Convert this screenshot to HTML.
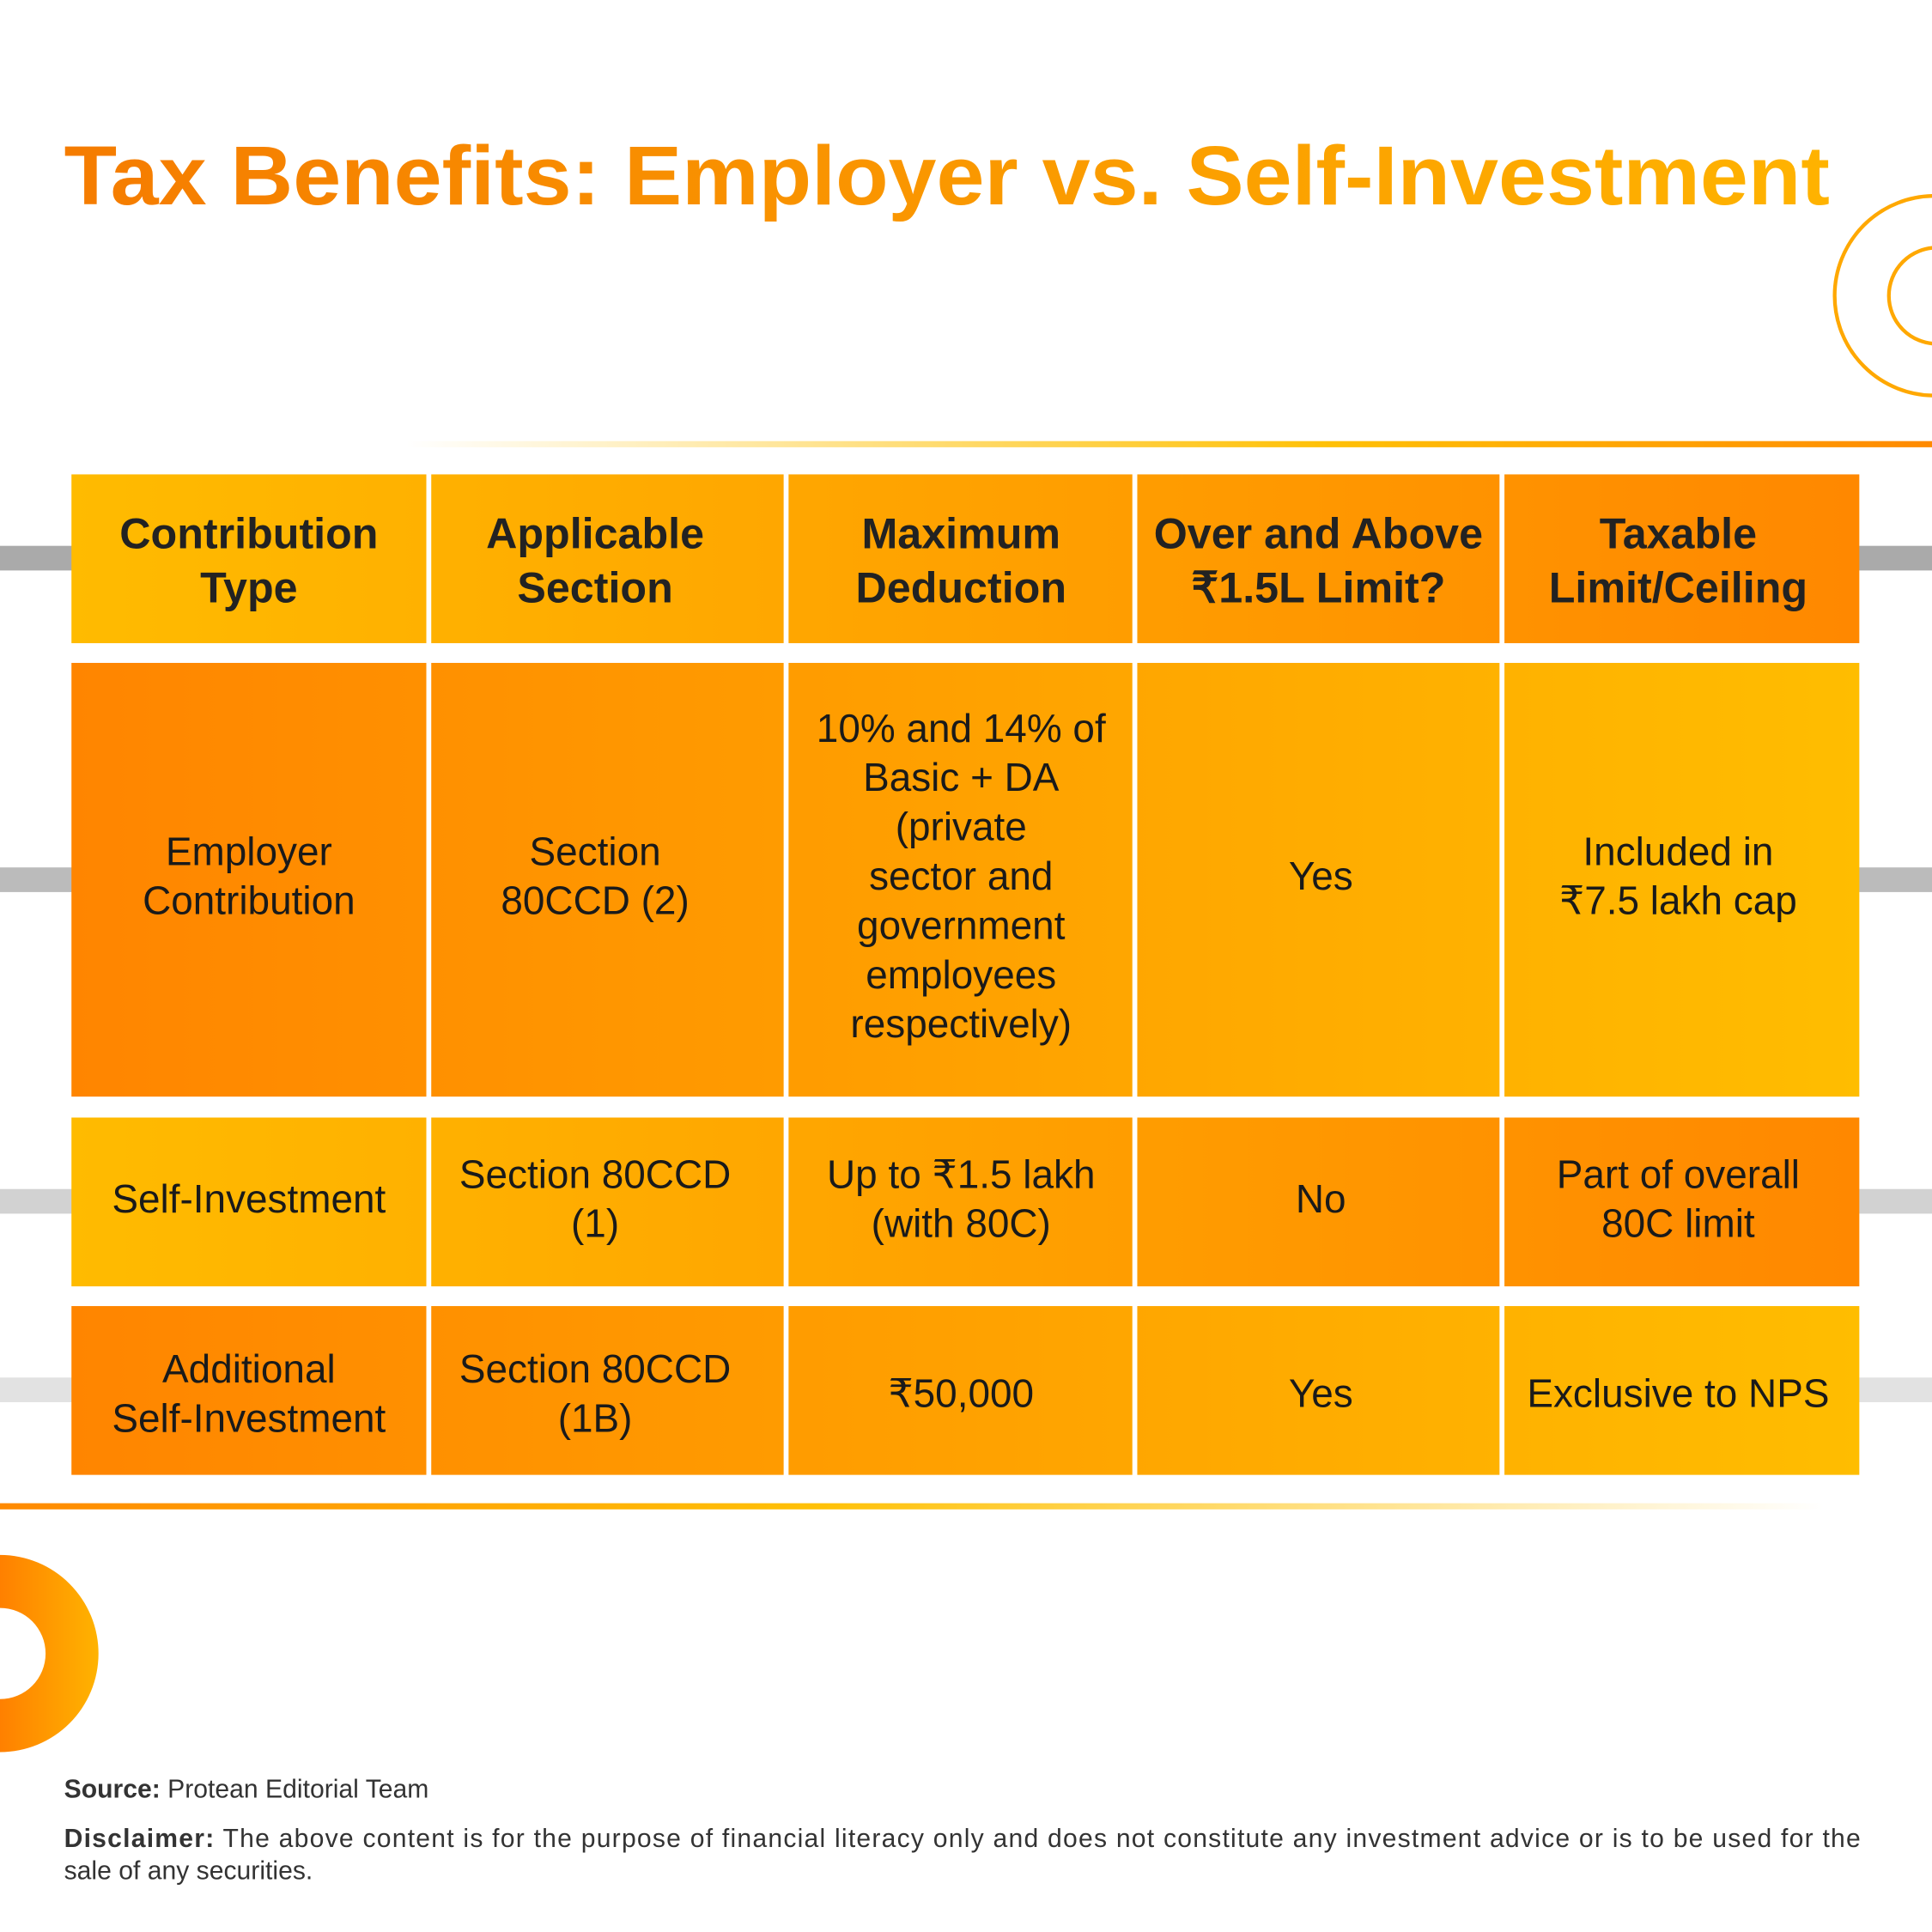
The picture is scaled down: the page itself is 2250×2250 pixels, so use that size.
<!DOCTYPE html>
<html><head><meta charset="utf-8">
<style>
html,body{margin:0;padding:0;background:#fff;}
svg{display:block;}
text{font-family:"Liberation Sans",sans-serif;}
</style></head>
<body>
<svg width="2250" height="2250" viewBox="0 0 1568 1568" xmlns="http://www.w3.org/2000/svg">
<defs>
<linearGradient id="gTitle" x1="52" x2="1485" y1="0" y2="0" gradientUnits="userSpaceOnUse"><stop offset="0" stop-color="#f57c00"/><stop offset="1" stop-color="#ffb300"/></linearGradient>
<linearGradient id="gYO" x1="58" x2="1509" y1="0" y2="0" gradientUnits="userSpaceOnUse"><stop offset="0" stop-color="#ffbb00"/><stop offset="1" stop-color="#ff8800"/></linearGradient>
<linearGradient id="gOY" x1="58" x2="1509" y1="0" y2="0" gradientUnits="userSpaceOnUse"><stop offset="0" stop-color="#ff8500"/><stop offset="1" stop-color="#ffbd00"/></linearGradient>
<linearGradient id="gTopLine" x1="330" x2="1568" y1="0" y2="0" gradientUnits="userSpaceOnUse"><stop offset="0" stop-color="#ffffff"/><stop offset="0.6" stop-color="#ffc107"/><stop offset="1" stop-color="#ff8a00"/></linearGradient>
<linearGradient id="gBotLine" x1="0" x2="1480" y1="0" y2="0" gradientUnits="userSpaceOnUse"><stop offset="0" stop-color="#ff8a00"/><stop offset="0.45" stop-color="#ffc107"/><stop offset="1" stop-color="#ffffff"/></linearGradient>
<linearGradient id="gDonut" x1="0" x2="80" y1="0" y2="0" gradientUnits="userSpaceOnUse"><stop offset="0" stop-color="#ff8000"/><stop offset="1" stop-color="#ffb300"/></linearGradient>
</defs>

<text x="52" y="166" font-size="68" font-weight="bold" fill="url(#gTitle)" textLength="1433" lengthAdjust="spacingAndGlyphs">Tax Benefits: Employer vs. Self-Investment</text>

<g fill="none" stroke="#ffa800" stroke-width="3">
<circle cx="1570" cy="240" r="81"/>
<circle cx="1572" cy="240" r="39"/>
</g>

<rect x="330" y="358" width="1238" height="5" fill="url(#gTopLine)"/>

<g>
<rect x="0" y="443" width="60" height="20" fill="#aaaaaa"/><rect x="1508" y="443" width="60" height="20" fill="#aaaaaa"/>
<rect x="0" y="704" width="60" height="20" fill="#bbbbbb"/><rect x="1508" y="704" width="60" height="20" fill="#bbbbbb"/>
<rect x="0" y="965" width="60" height="20" fill="#d2d2d2"/><rect x="1508" y="965" width="60" height="20" fill="#d2d2d2"/>
<rect x="0" y="1118" width="60" height="20" fill="#e2e2e2"/><rect x="1508" y="1118" width="60" height="20" fill="#e2e2e2"/>
</g>

<g>
<g fill="url(#gYO)">
<rect x="58" y="385" width="288" height="137"/><rect x="350" y="385" width="286" height="137"/><rect x="640" y="385" width="279" height="137"/><rect x="923" y="385" width="294" height="137"/><rect x="1221" y="385" width="288" height="137"/>
</g>
<g fill="url(#gOY)">
<rect x="58" y="538" width="288" height="352"/><rect x="350" y="538" width="286" height="352"/><rect x="640" y="538" width="279" height="352"/><rect x="923" y="538" width="294" height="352"/><rect x="1221" y="538" width="288" height="352"/>
</g>
<g fill="url(#gYO)">
<rect x="58" y="907" width="288" height="137"/><rect x="350" y="907" width="286" height="137"/><rect x="640" y="907" width="279" height="137"/><rect x="923" y="907" width="294" height="137"/><rect x="1221" y="907" width="288" height="137"/>
</g>
<g fill="url(#gOY)">
<rect x="58" y="1060" width="288" height="137"/><rect x="350" y="1060" width="286" height="137"/><rect x="640" y="1060" width="279" height="137"/><rect x="923" y="1060" width="294" height="137"/><rect x="1221" y="1060" width="288" height="137"/>
</g>

<g font-size="35" font-weight="bold" fill="#222" text-anchor="middle">
<text x="202" y="445">Contribution</text><text x="202" y="489">Type</text>
<text x="483" y="445">Applicable</text><text x="483" y="489">Section</text>
<text x="780" y="445">Maximum</text><text x="780" y="489">Deduction</text>
<text x="1070" y="445">Over and Above</text><text x="1070" y="489">₹1.5L Limit?</text>
<text x="1362" y="445">Taxable</text><text x="1362" y="489">Limit/Ceiling</text>
</g>

<g font-size="32" fill="#1a1a1a" text-anchor="middle">
<text x="202" y="702">Employer</text><text x="202" y="742">Contribution</text>
<text x="483" y="702">Section</text><text x="483" y="742">80CCD (2)</text>
<text x="780" y="602">10% and 14% of</text><text x="780" y="642">Basic + DA</text><text x="780" y="682">(private</text><text x="780" y="722">sector and</text><text x="780" y="762">government</text><text x="780" y="802">employees</text><text x="780" y="842">respectively)</text>
<text x="1072" y="722">Yes</text>
<text x="1362" y="702">Included in</text><text x="1362" y="742">₹7.5 lakh cap</text>

<text x="202" y="984">Self-Investment</text>
<text x="483" y="964">Section 80CCD</text><text x="483" y="1004">(1)</text>
<text x="780" y="964">Up to ₹1.5 lakh</text><text x="780" y="1004">(with 80C)</text>
<text x="1072" y="984">No</text>
<text x="1362" y="964">Part of overall</text><text x="1362" y="1004">80C limit</text>

<text x="202" y="1122">Additional</text><text x="202" y="1162">Self-Investment</text>
<text x="483" y="1122">Section 80CCD</text><text x="483" y="1162">(1B)</text>
<text x="780" y="1142">₹50,000</text>
<text x="1072" y="1142">Yes</text>
<text x="1362" y="1142">Exclusive to NPS</text>
</g>
</g>

<rect x="0" y="1220" width="1480" height="5" fill="url(#gBotLine)"/>

<path d="M0,1262 A80,80 0 0 1 0,1422 L0,1379 A37,37 0 0 0 0,1305 Z" fill="url(#gDonut)"/>

<text x="52" y="1459" font-size="21" fill="#333"><tspan font-weight="bold">Source:</tspan> Protean Editorial Team</text>
<text x="52" y="1499" font-size="21" fill="#333" textLength="1458" lengthAdjust="spacing"><tspan font-weight="bold">Disclaimer:</tspan> The above content is for the purpose of financial literacy only and does not constitute any investment advice or is to be used for the</text>
<text x="52" y="1525" font-size="21" fill="#333">sale of any securities.</text>
</svg>
</body></html>
